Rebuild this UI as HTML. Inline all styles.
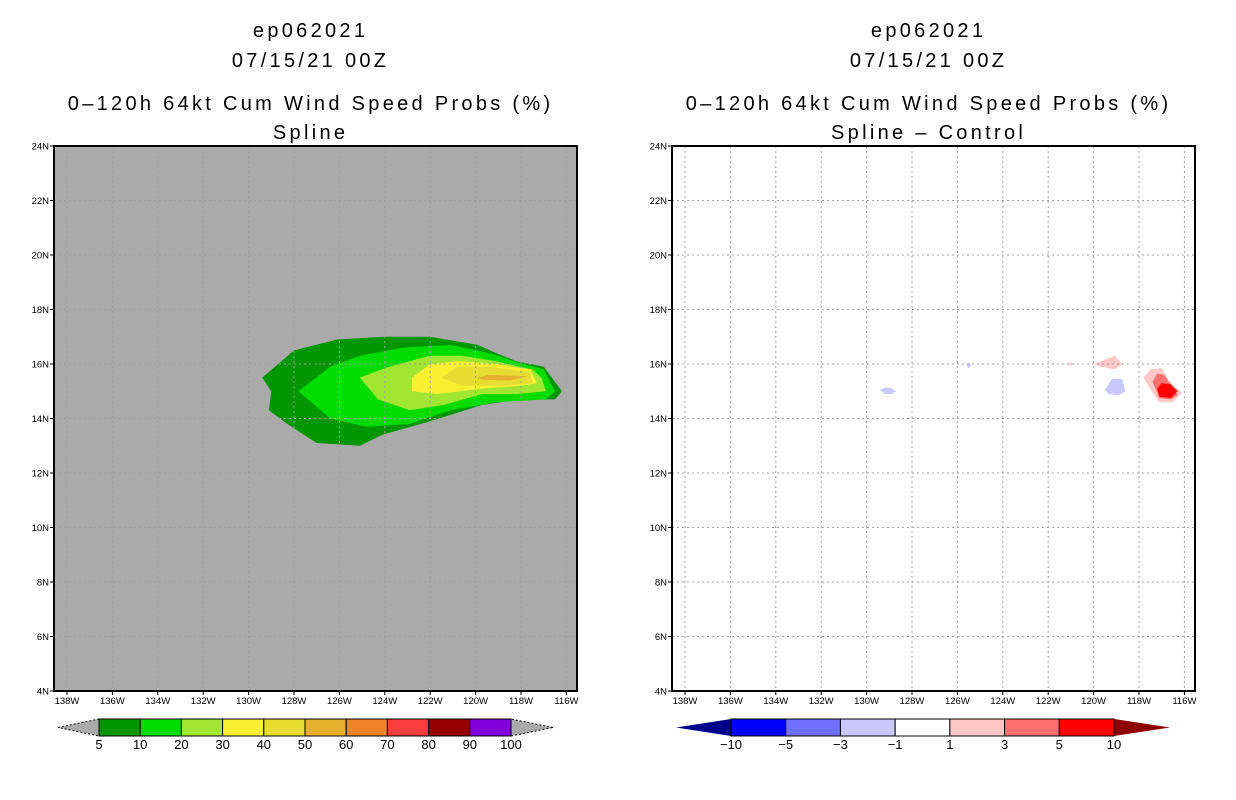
<!DOCTYPE html>
<html><head><meta charset="utf-8"><style>
body{margin:0;background:#fff;}
svg{display:block;}
text{font-family:"Liberation Sans",sans-serif;fill:#000;}
</style></head><body>
<svg id="chart" width="1236" height="800" xmlns="http://www.w3.org/2000/svg">
<g id="left"></g>
<g id="right"></g>
</svg>
<script>
const NS="http://www.w3.org/2000/svg";
const lonTicks=[138,136,134,132,130,128,126,124,122,120,118,116];
const latTicks=[4,6,8,10,12,14,16,18,20,22,24];
const titleLines1=["ep062021","07/15/21 00Z","0-120h 64kt Cum Wind Speed Probs (%)","Spline"];
const titleLines2=["ep062021","07/15/21 00Z","0-120h 64kt Cum Wind Speed Probs (%)","Spline - Control"];
const probLevels=[5,10,20,30,40,50];
const probColors=["#009600","#00dc00","#a0e632","#faf032","#e6dc32","#e6af2d"];
const c5=[[129.4,15.5],[128.0,16.5],[126.1,16.9],[124.1,17.0],[122.0,17.0],[119.9,16.7],[119.1,16.4],[118.2,16.1],[117.0,15.9],[116.2,15.0],[116.5,14.7],[118.0,14.7],[119.7,14.5],[122.0,13.9],[124.1,13.4],[125.1,13.0],[127.0,13.1],[128.3,13.8],[129.1,14.3],[129.0,15.0]];
const c10=[[127.8,15.0],[126.4,15.9],[125.1,16.3],[123.2,16.6],[121.1,16.7],[119.4,16.4],[117.9,16.0],[117.0,15.8],[116.5,15.0],[116.9,14.7],[119.1,14.6],[121.1,14.3],[122.9,13.8],[124.8,13.7],[126.4,14.0]];
const c20=[[125.1,15.5],[123.8,15.9],[122.0,16.3],[120.6,16.3],[119.1,16.1],[117.5,15.8],[117.1,15.5],[116.9,15.0],[118.2,14.9],[119.7,14.9],[121.4,14.5],[122.9,14.3],[124.3,14.7]];
const c30=[[122.8,15.5],[122.0,16.0],[120.8,16.1],[119.1,16.0],[117.6,15.8],[117.3,15.3],[118.0,15.2],[119.7,15.1],[121.7,14.9],[122.8,15.0]];
const c40=[[121.5,15.5],[120.8,15.9],[119.4,15.9],[117.6,15.7],[117.5,15.3],[118.8,15.2],[120.6,15.2]];
const c50=[[119.9,15.5],[119.4,15.6],[117.7,15.55],[118.5,15.4],[119.7,15.42]];
const probContours=[c5,c10,c20,c30,c40,c50];
const diffColors={"-3":"#c8c8ff","1":"#ffc8c8","3":"#ff7070","5":"#ff0000"};
const dBlue1=[[129.4,15.05],[129.15,15.15],[128.9,15.1],[128.7,15.0],[128.9,14.9],[129.2,14.9]];
const dBlue2=[[125.6,15.95],[125.5,16.05],[125.4,15.95],[125.5,15.85]];
const dBlue3=[[125.05,14.0],[125.0,14.05],[124.95,14.0],[125.0,13.95]];
const dBlue4=[[119.5,15.05],[119.2,15.45],[118.75,15.45],[118.6,15.0],[118.9,14.85],[119.35,14.9]];
const dPink1=[[121.1,16.0],[121.0,16.07],[120.9,16.0],[121.0,15.93]];
const dPink2=[[120.0,16.0],[119.06,16.3],[118.75,16.0],[119.06,15.8],[119.7,15.9]];
const dPink3=[[117.8,15.5],[117.5,15.8],[117.0,15.85],[116.7,15.4],[116.1,14.95],[116.5,14.6],[117.1,14.6],[117.4,14.95]];
const dSalmon=[[117.4,15.35],[117.2,15.65],[116.9,15.6],[116.6,15.25],[116.3,14.85],[116.6,14.7],[117.1,14.75]];
const dRed=[[117.2,15.1],[117.0,15.3],[116.6,15.25],[116.3,15.0],[116.6,14.75],[117.1,14.8]];
const diffContours=[["-3",dBlue1],["-3",dBlue2],["-3",dBlue3],["-3",dBlue4],["1",dPink1],["1",dPink2],["1",dPink3],["3",dSalmon],["5",dRed]];
const cbLabels1=["5","10","20","30","40","50","60","70","80","90","100"];
const cbColors1=["#009600","#00dc00","#a0e632","#faf032","#e6dc32","#e6af2d","#f08228","#fa3c3c","#960000","#8200dc"];
const cbLabels2=["-10","-5","-3","-1","1","3","5","10"];
const cbColors2=["#0000ff","#7070ff","#c8c8ff","#ffffff","#ffc8c8","#ff7070","#ff0000"];

function el(tag,attrs,parent){const e=document.createElementNS(NS,tag);for(const k in attrs)e.setAttribute(k,attrs[k]);parent.appendChild(e);return e;}

function panel(g,ox,titles,bg,drawData){
  const x0=ox,x1=ox+523,y0=146,y1=691;
  const px=lon=>ox+13+(138-lon)*22.7;
  const py=lat=>y0+(24-lat)*27.25;
  const cx=ox+255;
  const ys=[30,60,103,132];
  titles.forEach((t,i)=>{
    const tx=el("text",{x:cx+1.6,y:ys[i]+7,"text-anchor":"middle","font-size":"20","letter-spacing":"3.3"},g);
    
    
    tx.textContent=t.replace(/-/g,"\u2013");
  });
  const r=el("rect",{x:x0,y:y0,width:523,height:545,fill:bg},g);
  
  
  drawData(px,py);
  lonTicks.forEach(l=>{
    const x=px(l);
    const gl=el("line",{x1:x,x2:x,y1:y0,y2:y1,stroke:"#a0a0a0","stroke-dasharray":"2,3","stroke-width":1},g);
    
    
    el("line",{x1:x,x2:x,y1:y1,y2:y1+4,stroke:"#000"},g);
    const t=el("text",{x:x,y:y1+13,"text-anchor":"middle","font-size":"9.5"},g);
    
    
    t.textContent=l+"W";
  });
  latTicks.forEach(l=>{
    const y=py(l);
    if(l>4&&l<24){
    const gl=el("line",{x1:x0,x2:x1,y1:y,y2:y,stroke:"#a0a0a0","stroke-dasharray":"2,3","stroke-width":1},g);
    
    }
    el("line",{x1:x0-4,x2:x0,y1:y,y2:y,stroke:"#000"},g);
    const t=el("text",{x:x0-5,y:y+3.5,"text-anchor":"end","font-size":"9.5"},g);
    
    
    t.textContent=l+"N";
  });
  const fr=el("rect",{x:x0,y:y0,width:523,height:545,fill:"none",stroke:"#000","stroke-width":2},g);
  
  
}
function poly(g,pts,px,py,fill,name){
  const p=el("polygon",{points:pts.map(q=>px(q[0]).toFixed(1)+","+py(q[1]).toFixed(1)).join(" "),fill:fill},g);
  
  
}
const L=document.getElementById("left"),R=document.getElementById("right");
panel(L,54,titleLines1,"#aaaaaa",(px,py)=>{
  probContours.forEach((c,i)=>poly(L,c,px,py,probColors[i],"prob-contour-"+probLevels[i]));
});
panel(R,672,titleLines2,"#ffffff",(px,py)=>{
  diffContours.forEach(d=>poly(R,d[1],px,py,diffColors[d[0]],"diff-contour-"+d[0].replace("-","neg")));
});
function colorbar(g,xs,xe,tipL,tipR,colors,labels,lc,rc,dashed){
  const y0=719,y1=736,w=(xe-xs)/colors.length;
  const tl=el("polygon",{points:`${tipL},${(y0+y1)/2} ${xs},${y0} ${xs},${y1}`,fill:lc,stroke:dashed?"#000":"none","stroke-dasharray":"2,2"},g);
  
  
  const tr=el("polygon",{points:`${tipR},${(y0+y1)/2} ${xe},${y0} ${xe},${y1}`,fill:rc,stroke:dashed?"#000":"none","stroke-dasharray":"2,2"},g);
  
  
  colors.forEach((c,i)=>{
    const r=el("rect",{x:xs+i*w,y:y0,width:w,height:y1-y0,fill:c,stroke:"#000","stroke-width":1},g);
    
    
  });
  labels.forEach((l,i)=>{
    const t=el("text",{x:xs+i*w,y:y1+13,"text-anchor":"middle","font-size":"13"},g);
    
    
    t.textContent=l.replace("-","\u2212");
  });
}
colorbar(L,99,511,58,553,cbColors1,cbLabels1,"#aaaaaa","#aaaaaa",true);
colorbar(R,731,1114,676,1170,cbColors2,cbLabels2,"#00008c","#8c0000",false);
</script>
</body></html>
